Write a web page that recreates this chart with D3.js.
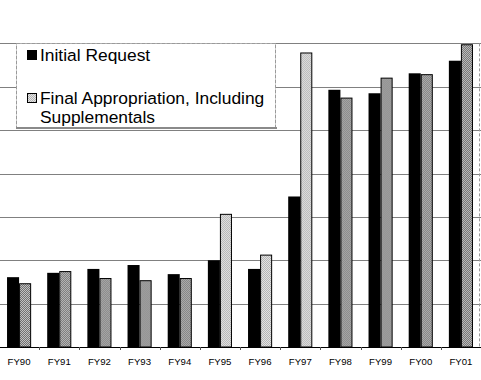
<!DOCTYPE html>
<html>
<head>
<meta charset="utf-8">
<script src="https://d3js.org/d3.v7.min.js"></script>
<style>
  body { margin: 0; background: #ffffff; }
  svg { display: block; }
</style>
</head>
<body>
<script>
// chart data (units = one gridline)
var years = ["FY90", "FY91", "FY92", "FY93", "FY94", "FY95", "FY96", "FY97", "FY98", "FY99", "FY00", "FY01"];
var initialRequest = [1.61, 1.71, 1.80, 1.89, 1.68, 2.00, 1.80, 3.47, 5.93, 5.85, 6.31, 6.60];
var finalAppropriation = [1.47, 1.75, 1.59, 1.54, 1.59, 3.07, 2.13, 6.79, 5.75, 6.21, 6.29, 6.98];
var seriesNames = ["Initial Request", "Final Appropriation, Including Supplementals"];
var lightYears = ["FY95", "FY96", "FY97"]; // these bars are printed with a lighter screen
var gridTicks = [1, 2, 3, 4, 5, 6, 7];

var chartWidth = 481; // SVG width
var chartHeight = 380; // SVG height
var baseY = 347; // y of the x axis

var svg = d3.select("body").append("svg")
    .attr("width", chartWidth)
    .attr("height", chartHeight)
    .attr("xmlns", "http://www.w3.org/2000/svg")
    .style("font-family", "'Liberation Sans', Arial, sans-serif");

// halftone-ish fills for the second series
var defs = svg.append("defs");
function addPattern(id, dark, light) {
    var p = defs.append("pattern")
        .attr("id", id)
        .attr("width", 2)
        .attr("height", 2)
        .attr("patternUnits", "userSpaceOnUse");
    p.append("rect").attr("width", 2).attr("height", 2).attr("fill", light);
    p.append("rect").attr("width", 1).attr("height", 1).attr("fill", dark);
    p.append("rect").attr("x", 1).attr("y", 1).attr("width", 1).attr("height", 1).attr("fill", dark);
}
addPattern("dotsDark", "#6e6e6e", "#c4c4c4");
addPattern("dotsLight", "#b4b4b4", "#e4e4e4");

// scales
var x = d3.scaleBand()
    .domain(years)
    .range([-1, 481])
    .paddingInner(0.4)
    .paddingOuter(0.2);
var xInner = d3.scaleBand()
    .domain([0, 1])
    .range([0, x.bandwidth()]);
var y = d3.scaleLinear()
    .domain([0, 8])
    .range([baseY, 0]);

// gridlines
svg.append("g")
    .selectAll("line")
    .data(gridTicks)
    .enter()
    .append("line")
    .attr("x1", 0)
    .attr("x2", chartWidth)
    .attr("y1", function (d) { return Math.round(y(d)) + 0.5; })
    .attr("y2", function (d) { return Math.round(y(d)) + 0.5; })
    .style("stroke", "#808080")
    .style("stroke-width", 1);

// right plot border
svg.append("line")
    .attr("x1", 479.5).attr("x2", 479.5)
    .attr("y1", y(7)).attr("y2", baseY)
    .style("stroke", "#9a9a9a")
    .style("stroke-dasharray", "3,2");

// bars
var groups = svg.append("g")
    .selectAll("g")
    .data(years)
    .enter()
    .append("g")
    .attr("transform", function (d) { return "translate(" + x(d) + ",0)"; });

groups.append("rect") // initial request
    .attr("x", xInner(0))
    .attr("y", function (d, i) { return y(initialRequest[i]); })
    .attr("width", xInner.bandwidth())
    .attr("height", function (d, i) { return baseY - y(initialRequest[i]); })
    .style("fill", "#000000");

groups.append("rect") // final appropriation
    .attr("x", xInner(1) + 0.5)
    .attr("y", function (d, i) { return y(finalAppropriation[i]) + 0.5; })
    .attr("width", xInner.bandwidth() - 1)
    .attr("height", function (d, i) { return baseY - y(finalAppropriation[i]) - 0.5; })
    .style("fill", function (d) { return lightYears.indexOf(d) >= 0 ? "url(#dotsLight)" : "url(#dotsDark)"; })
    .style("stroke", "#000000")
    .style("stroke-width", 1);

// x axis
var xAxis = d3.axisBottom(x).tickSize(0).tickPadding(11);
var axisG = svg.append("g")
    .attr("transform", "translate(0," + baseY + ")")
    .call(xAxis);
axisG.select(".domain").remove();
axisG.selectAll("text")
    .style("font-size", "9.6px")
    .style("font-family", "'Liberation Sans', Arial, sans-serif")
    .attr("fill", "#000000");
svg.append("line")
    .attr("x1", 0).attr("x2", chartWidth)
    .attr("y1", baseY + 0.5).attr("y2", baseY + 0.5)
    .style("stroke", "#000000");
// small tick marks between categories
svg.append("g")
    .selectAll("line")
    .data(years.slice(1))
    .enter()
    .append("line")
    .attr("x1", function (d) { return Math.round(x(d) - x.step() * 0.2) + 0.5; })
    .attr("x2", function (d) { return Math.round(x(d) - x.step() * 0.2) + 0.5; })
    .attr("y1", baseY)
    .attr("y2", baseY + 3)
    .style("stroke", "#555555");

// legend
var legend = svg.append("g");
legend.append("rect")
    .attr("x", 16.5).attr("y", 43.5)
    .attr("width", 259).attr("height", 84)
    .style("fill", "#ffffff")
    .style("stroke", "#9a9a9a")
    .style("stroke-dasharray", "4,1");
legend.append("line")
    .attr("x1", 16).attr("x2", 277)
    .attr("y1", 128).attr("y2", 128)
    .style("stroke", "#8a8a8a")
    .style("stroke-width", 2);

legend.append("rect")
    .attr("x", 27).attr("y", 50)
    .attr("width", 10).attr("height", 10)
    .style("fill", "#000000");
legend.append("rect")
    .attr("x", 27.5).attr("y", 93.5)
    .attr("width", 9).attr("height", 9)
    .style("fill", "url(#dotsLight)")
    .style("stroke", "#000000");

legend.append("text")
    .attr("x", 40).attr("y", 61)
    .style("font-size", "17.4px")
    .text(seriesNames[0]);
legend.append("text")
    .attr("x", 40).attr("y", 104)
    .style("font-size", "17.4px")
    .text(seriesNames[1].replace(" Supplementals", ""));
legend.append("text")
    .attr("x", 40).attr("y", 123)
    .style("font-size", "17.4px")
    .text("Supplementals");
</script>
</body>
</html>
